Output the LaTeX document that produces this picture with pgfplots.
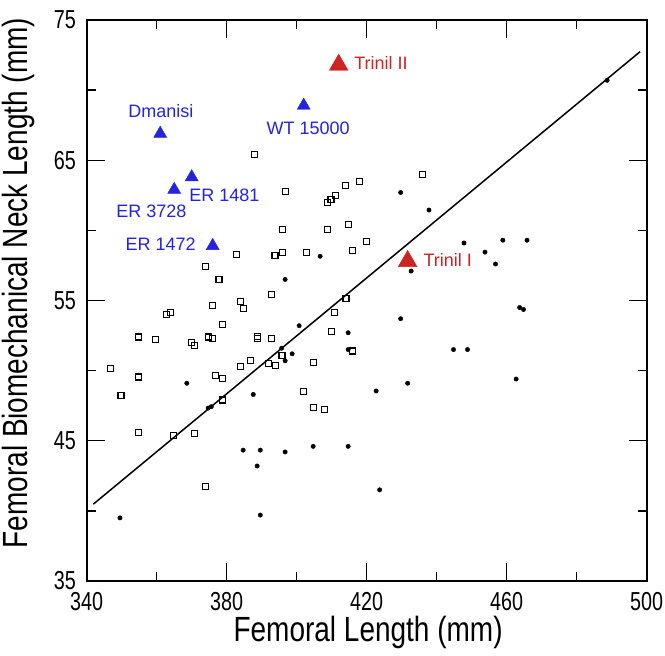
\documentclass[border=0pt]{standalone}
\usepackage{pgfplots}
\pgfplotsset{compat=1.18}
\usepackage{fontspec}
\setmainfont{Liberation Sans}
\newfontfamily\tickfont[FakeStretch=0.76]{Liberation Sans}
\newfontfamily\labfont[FakeStretch=0.8]{Liberation Sans}
\definecolor{ptblue}{RGB}{35,35,225}
\definecolor{ptred}{RGB}{205,35,35}
\begin{document}
\begin{tikzpicture}
\begin{axis}[
 scale only axis, width=560pt, height=561pt,
 xmin=340, xmax=500, ymin=35, ymax=75,
 xtick={340,380,...,500}, ytick={35,45,...,75},
 minor xtick={360,400,...,480}, minor ytick={40,50,...,70},
 major tick length=18pt, minor tick length=9pt,
 tick align=inside,
 every tick/.style={line width=1.3pt, black},
 every minor tick/.style={line width=1.3pt, black},
 axis line style={line width=2pt},
 /pgf/number format/assume math mode=true,
 ticklabel style={font=\tickfont\fontsize{26}{26}\selectfont, inner sep=0pt},
 yticklabel style={anchor=east, xshift=-10.7pt},
 xticklabel style={anchor=north, yshift=-11pt},
 xlabel={Femoral Length (mm)},
 ylabel={Femoral Biomechanical Neck Length (mm)},
 label style={font=\labfont\fontsize{35}{35}\selectfont},
 xlabel style={at={(axis description cs:0.5025,-0.091)}, anchor=center},
 ylabel style={at={(axis description cs:-0.121,0.531)}, anchor=center},
 clip=false,
]
% regression line
\addplot[black, line width=1.5pt] coordinates {(341.9,40.48) (498.1,72.74)};
% open squares
\addplot[only marks, mark=square, mark size=3pt, mark options={black, line width=1.2pt, fill=white}] coordinates {
(387.9,65.4) (396.7,62.8) (408.9,62.0) (409.8,62.2) (411.0,62.5) (414.0,63.2) (417.9,63.5) (436.0,64.0)
(395.9,60.05) (408.9,60.05) (414.9,60.4) (420.0,59.2) (415.9,58.55) (382.9,58.26) (393.8,58.2) (395.9,58.4)
(402.9,58.4) (373.9,57.45) (377.8,56.5) (392.9,55.45) (383.9,54.95) (384.9,54.43) (375.9,54.65) (414.1,55.15)
(362.7,53.98) (363.9,54.14) (378.8,53.3) (410.9,54.14) (409.9,52.8) (354.8,52.4) (359.7,52.2) (369.9,52.0)
(370.9,51.8) (374.7,52.4) (375.9,52.3) (388.9,52.45) (388.9,52.3) (392.9,52.3) (395.8,51.1) (404.9,50.6)
(415.9,51.4) (386.8,50.7) (383.9,50.3) (391.9,50.48) (393.9,50.38) (346.7,50.16) (354.8,49.55) (376.9,49.67)
(378.7,49.45) (401.9,48.5) (349.8,48.2) (378.7,47.9) (404.9,47.38) (407.9,47.24) (354.8,45.6) (364.8,45.4)
(370.9,45.5) (373.9,41.76)
};
% filled dots
\addplot[only marks, mark=*, mark size=2.2pt, mark options={black}] coordinates {
(406.7,58.15) (396.7,56.5) (488.7,70.7) (429.7,62.7) (437.8,61.45) (447.8,59.1) (453.8,58.45) (458.9,59.3)
(465.8,59.3) (456.8,57.6) (432.7,57.1) (400.7,53.2) (414.7,52.7) (414.7,51.5) (395.7,51.6) (398.7,51.2)
(396.7,50.7) (368.6,49.1) (387.6,48.3) (374.7,47.33) (375.6,47.43) (384.7,44.33) (389.6,44.33) (396.7,44.2)
(404.7,44.6) (414.7,44.6) (388.7,43.2) (349.5,39.5) (389.6,39.7) (422.7,48.55) (429.7,53.7) (463.7,54.5)
(464.8,54.36) (444.8,51.5) (448.8,51.5) (462.7,49.4) (431.7,49.1) (423.7,41.5)
};
% blue triangles
\addplot[only marks, mark=triangle*, mark size=7.5pt, mark options={ptblue, fill=ptblue}] coordinates {
(402,68.9) (361,66.9) (370,63.8) (365,62.9) (376,58.9)
};
% red triangles
\addplot[only marks, mark=triangle*, mark size=10.8pt, mark options={ptred, fill=ptred}] coordinates {
(412,71.8) (431.7,57.8)
};
\begin{scope}[every node/.style={font=\fontsize{18}{18}\selectfont, inner sep=0pt}]
\node[ptblue, anchor=center] at (axis cs:361.2,68.5) {Dmanisi};
\node[ptblue, anchor=center] at (axis cs:403.3,67.26) {WT 15000};
\node[ptblue, anchor=west] at (axis cs:369.3,62.5) {ER 1481};
\node[ptblue, anchor=west] at (axis cs:348.4,61.36) {ER 3728};
\node[ptblue, anchor=east] at (axis cs:371.2,59.0) {ER 1472};
\node[ptred, anchor=west] at (axis cs:416.4,71.93) {Trinil II};
\node[ptred, anchor=west] at (axis cs:436.2,57.86) {Trinil I};
\end{scope}
\end{axis}
\pgfresetboundingbox
\path (current axis.south west) ++(-86.7pt,-75pt) rectangle ++(665pt,656pt);
\end{tikzpicture}
\end{document}
